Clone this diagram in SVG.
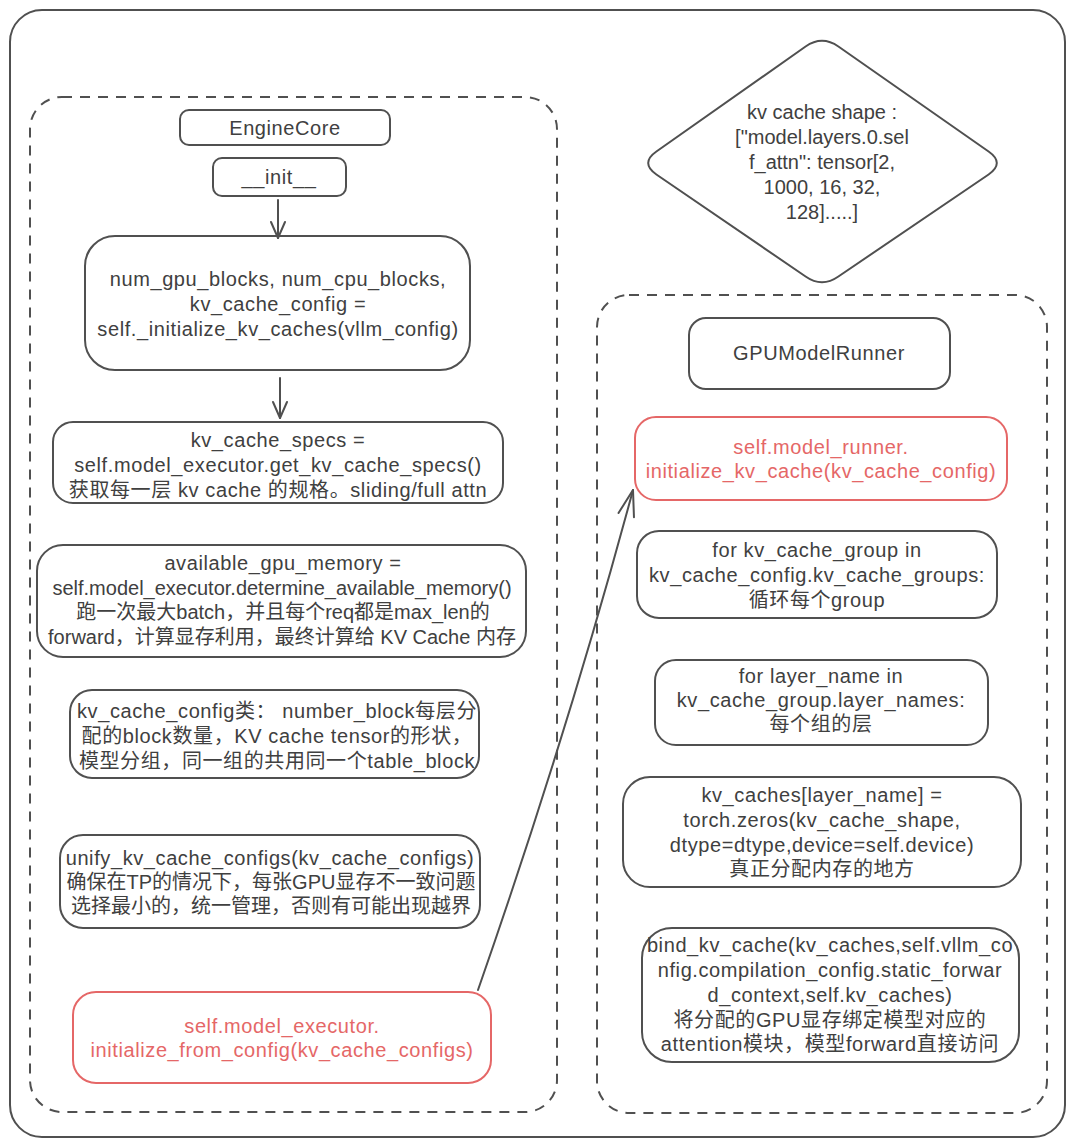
<svg xmlns="http://www.w3.org/2000/svg" width="1074" height="1145" viewBox="0 0 1074 1145">
<style>
  .box { fill: none; stroke: #505050; stroke-width: 2; }
  .red { fill: none; stroke: #e56767; stroke-width: 2; }
  .dash { fill: none; stroke: #505050; stroke-width: 2; stroke-dasharray: 10 8; }
  .t { font-family: "Liberation Sans", "Noto Sans CJK SC", sans-serif; font-size: 20px; fill: #404040; text-anchor: middle; letter-spacing: 0.6px; }
  .tr { font-family: "Liberation Sans", "Noto Sans CJK SC", sans-serif; font-size: 20px; fill: #e56767; text-anchor: middle; letter-spacing: 0.6px; }
  .td { letter-spacing: 0px; }
  .conn { fill: none; stroke: #505050; stroke-width: 2; stroke-linecap: round; }
</style>
<defs>
  <marker id="arrowSm" markerUnits="userSpaceOnUse" viewBox="-20 -10 22 20" refX="0" refY="0" markerWidth="22" markerHeight="20" orient="auto">
    <path d="M-16,-7 L0,0 L-16,7" fill="none" stroke="#505050" stroke-width="2" stroke-linecap="round" stroke-linejoin="round"/>
  </marker>
  <marker id="arrowLg" markerUnits="userSpaceOnUse" viewBox="-30 -12 32 24" refX="0" refY="0" markerWidth="32" markerHeight="24" orient="auto">
    <path d="M-26,-8 L0,0 L-26,8" fill="none" stroke="#505050" stroke-width="2" stroke-linecap="round" stroke-linejoin="round"/>
  </marker>
</defs>

<rect width="1074" height="1145" fill="#ffffff"/>

<g id="frame">
  <rect class="box" x="10" y="10" width="1055" height="1127" rx="32" ry="32"/>
</g>
<g id="engine-core-group">
  <rect class="dash" x="30" y="97" width="527" height="1015" rx="32" ry="32"/>
</g>
<g id="gpu-model-runner-group">
  <rect class="dash" x="597" y="295" width="450" height="818" rx="32" ry="32"/>
</g>

<g id="engine-core">
  <rect class="box" x="180" y="110" width="210" height="35" rx="9" ry="9"/>
  <text class="t" x="285" y="135">EngineCore</text>
</g>
<g id="init">
  <rect class="box" x="213" y="158" width="133" height="38" rx="9" ry="9"/>
  <text class="t" x="279" y="184">__init__</text>
</g>
<g id="initialize-kv-caches">
  <rect class="box" x="85" y="236" width="385" height="134" rx="30" ry="30"/>
  <text class="t" x="278" y="286">num_gpu_blocks, num_cpu_blocks,</text>
  <text class="t" x="278" y="311">kv_cache_config =</text>
  <text class="t" x="278" y="336">self._initialize_kv_caches(vllm_config)</text>
</g>
<g id="kv-cache-specs">
  <rect class="box" x="53" y="422" width="450" height="81" rx="20" ry="20"/>
  <text class="t" x="278" y="447">kv_cache_specs =</text>
  <text class="t" x="278" y="472">self.model_executor.get_kv_cache_specs()</text>
  <text class="t" x="278" y="497">获取每一层 kv cache 的规格。sliding/full attn</text>
</g>
<g id="available-memory">
  <rect class="box" x="37" y="545" width="489" height="112" rx="26" ry="26"/>
  <text class="t" x="283" y="570">available_gpu_memory =</text>
  <text class="t td" x="282" y="595">self.model_executor.determine_available_memory()</text>
  <text class="t td" x="283" y="619">跑一次最大batch，并且每个req都是max_len的</text>
  <text class="t td" x="282" y="644">forward，计算显存利用，最终计算给 KV Cache 内存</text>
</g>
<g id="kv-cache-config">
  <rect class="box" x="70" y="690" width="409" height="88" rx="22" ry="22"/>
  <text class="t" x="277" y="718">kv_cache_config类： number_block每层分</text>
  <text class="t" x="277" y="743">配的block数量，KV cache tensor的形状，</text>
  <text class="t" x="277" y="768">模型分组，同一组的共用同一个table_block</text>
</g>
<g id="unify-configs">
  <rect class="box" x="60" y="835" width="420" height="93" rx="23" ry="23"/>
  <text class="t" x="270" y="865">unify_kv_cache_configs(kv_cache_configs)</text>
  <text class="t td" x="271" y="889">确保在TP的情况下，每张GPU显存不一致问题</text>
  <text class="t td" x="271" y="913">选择最小的，统一管理，否则有可能出现越界</text>
</g>
<g id="initialize-from-config">
  <rect class="red" x="73" y="992" width="418" height="91" rx="23" ry="23"/>
  <text class="tr" x="282" y="1033">self.model_executor.</text>
  <text class="tr" x="282" y="1057">initialize_from_config(kv_cache_configs)</text>
</g>

<g id="kv-cache-shape">
  <path class="box" d="M805.6,46.5 Q822,35 838.4,46.5 L988.6,151.5 Q1005,163 988.6,174.5 L838.4,276.5 Q822,288 805.6,276.5 L656.4,174.5 Q640,163 656.4,151.5 Z"/>
  <text class="t td" x="822" y="119">kv cache shape :</text>
  <text class="t td" x="822" y="144">["model.layers.0.sel</text>
  <text class="t td" x="822" y="169">f_attn": tensor[2,</text>
  <text class="t td" x="822" y="194">1000, 16, 32,</text>
  <text class="t td" x="822" y="219">128].....]</text>
</g>

<g id="gpu-model-runner">
  <rect class="box" x="689" y="318" width="261" height="71" rx="17" ry="17"/>
  <text class="t" x="819" y="360">GPUModelRunner</text>
</g>
<g id="initialize-kv-cache">
  <rect class="red" x="635" y="417" width="372" height="83" rx="21" ry="21"/>
  <text class="tr" x="821" y="454">self.model_runner.</text>
  <text class="tr" x="821" y="478">initialize_kv_cache(kv_cache_config)</text>
</g>
<g id="for-group">
  <rect class="box" x="637" y="531" width="360" height="87" rx="22" ry="22"/>
  <text class="t" x="817" y="557">for kv_cache_group in</text>
  <text class="t" x="817" y="582">kv_cache_config.kv_cache_groups:</text>
  <text class="t" x="817" y="607">循环每个group</text>
</g>
<g id="for-layer">
  <rect class="box" x="655" y="660" width="333" height="85" rx="21" ry="21"/>
  <text class="t" x="821" y="683">for layer_name in</text>
  <text class="t" x="821" y="707">kv_cache_group.layer_names:</text>
  <text class="t" x="821" y="731">每个组的层</text>
</g>
<g id="kv-caches-alloc">
  <rect class="box" x="623" y="777" width="398" height="110" rx="27" ry="27"/>
  <text class="t" x="822" y="802">kv_caches[layer_name] =</text>
  <text class="t" x="822" y="827">torch.zeros(kv_cache_shape,</text>
  <text class="t" x="822" y="852">dtype=dtype,device=self.device)</text>
  <text class="t" x="822" y="876">真正分配内存的地方</text>
</g>
<g id="bind-kv-cache">
  <rect class="box" x="642" y="928" width="377" height="134" rx="30" ry="30"/>
  <text class="t" x="830" y="952">bind_kv_cache(kv_caches,self.vllm_co</text>
  <text class="t" x="830" y="977">nfig.compilation_config.static_forwar</text>
  <text class="t" x="830" y="1002">d_context,self.kv_caches)</text>
  <text class="t" x="830" y="1027">将分配的GPU显存绑定模型对应的</text>
  <text class="t" x="830" y="1051">attention模块，模型forward直接访问</text>
</g>

<g id="connectors">
  <line class="conn" x1="278" y1="200" x2="278" y2="238" marker-end="url(#arrowSm)"/>
  <line class="conn" x1="280" y1="378" x2="280" y2="418" marker-end="url(#arrowSm)"/>
  <path class="conn" d="M478,990 Q567,735 633,490" marker-end="url(#arrowLg)"/>
</g>
</svg>
